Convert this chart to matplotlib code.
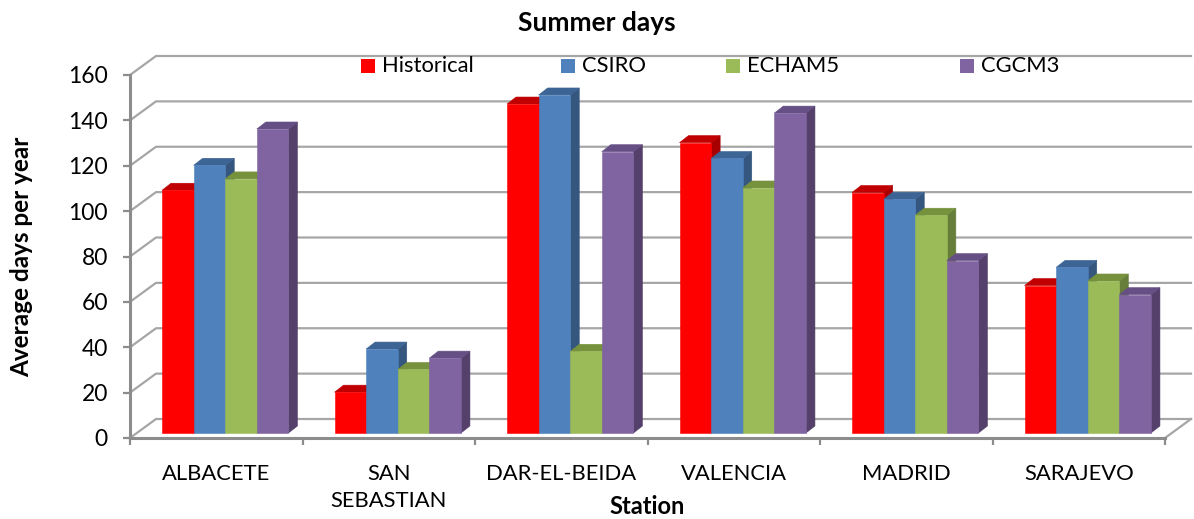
import matplotlib.pyplot as plt
from matplotlib.patches import Polygon, Rectangle

plt.rcParams['font.family'] = ['Lato', 'DejaVu Sans']

stations = ["ALBACETE", "SAN\nSEBASTIAN", "DAR-EL-BEIDA", "VALENCIA", "MADRID", "SARAJEVO"]
series_names = ["Historical", "CSIRO", "ECHAM5", "CGCM3"]
historical = [107, 18, 145, 128, 106, 65]
csiro = [118, 37, 149, 121, 103, 73]
echam5 = [112, 28, 36, 108, 96, 67]
cgcm3 = [134, 33, 124, 141, 76, 61]
y_ticks = [0, 20, 40, 60, 80, 100, 120, 140, 160]

front_colors = ["#FF0000", "#4F81BD", "#9BBB59", "#8064A2"]
top_colors = ["#C00000", "#3C6494", "#76923C", "#664F85"]
side_colors = ["#A80000", "#34567F", "#677E3A", "#54406B"]
grid_col = "#A6A6A6"
axis_col = "#8C8C8C"

W, H = 1194, 519
fig = plt.figure(figsize=(W / 100, H / 100), dpi=100)

# front plane of the 3d box, in pixels
x0, x1, y0, y1 = 130, 1165, 438, 75
ax = fig.add_axes([x0 / W, (H - y0) / H, (x1 - x0) / W, (y0 - y1) / H])
n = len(stations)
ax.set_xlim(0, n)
ax.set_ylim(0, 160)
sx = n / (x1 - x0)       # data units per pixel
sy = 160 / (y0 - y1)

wall_dx, wall_dy = 26 * sx, 19 * sy     # depth of floor / side wall
bar_dx, bar_dy = 9 * sx, 5 * sy         # bars sit a bit behind the front plane
dep_dx, dep_dy = 9 * sx, 7 * sy         # visible depth of each column
bar_w = 31.6 * sx

# back wall gridlines plus the diagonals on the side wall
for v in y_ticks:
    ax.plot([0, wall_dx, n + wall_dx], [v, v + wall_dy, v + wall_dy],
            color=grid_col, lw=1.6, clip_on=False, zorder=1)
# right edge of the floor
ax.plot([n, n + wall_dx], [0, wall_dy], color=grid_col, lw=1.6, clip_on=False, zorder=1)

values = [historical, csiro, echam5, cgcm3]
z = 3
for i in range(n):
    left = i + 0.5 - 2 * bar_w + bar_dx
    for k, vals in enumerate(values):
        xa = left + k * bar_w
        xb = xa + bar_w
        yb = bar_dy
        yt = vals[i] + bar_dy
        front = Polygon([(xa, yb), (xb, yb), (xb, yt), (xa, yt)],
                        fc=front_colors[k], ec=front_colors[k], lw=0.4, zorder=z)
        top = Polygon([(xa, yt), (xb, yt), (xb + dep_dx, yt + dep_dy), (xa + dep_dx, yt + dep_dy)],
                      fc=top_colors[k], ec=top_colors[k], lw=0.4, zorder=z)
        side = Polygon([(xb, yb), (xb + dep_dx, yb + dep_dy), (xb + dep_dx, yt + dep_dy), (xb, yt)],
                       fc=side_colors[k], ec=side_colors[k], lw=0.4, zorder=z)
        for p in (side, top, front):
            p.set_clip_on(False)
            ax.add_patch(p)
        z += 1

# axes: only the front left and bottom lines
for s in ("top", "right"):
    ax.spines[s].set_visible(False)
for s in ("left", "bottom"):
    ax.spines[s].set_color(axis_col)
    ax.spines[s].set_linewidth(2.2)
    ax.spines[s].set_zorder(50)
ax.set_facecolor("none")

ax.set_yticks(y_ticks)
ax.set_yticklabels([str(v) for v in y_ticks])
ax.tick_params(axis="y", length=5, width=1.6, color=axis_col, pad=11, labelsize=16.5)

ax.set_xticks(range(n + 1))
ax.set_xticklabels([])
ax.tick_params(axis="x", which="major", length=5, width=1.6, color=axis_col)
ax.set_xticks([i + 0.5 for i in range(n)], minor=True)
ax.set_xticklabels(stations, minor=True, fontsize=15.8, linespacing=1.42)
ax.tick_params(axis="x", which="minor", length=0, pad=19)

ax.set_ylabel("Average days per year", fontsize=17.5, fontweight="bold")
ax.yaxis.set_label_coords(-97 / (x1 - x0), 0.5)

fig.text(597 / W, 1 - 23 / H, "Summer days", ha="center", va="center",
         fontsize=19, fontweight="bold")
fig.text(647 / W, 1 - 506 / H, "Station", ha="center", va="center",
         fontsize=17, fontweight="bold")

# legend row across the top of the back wall
legend_x = [361, 561, 726, 960]
for k, name in enumerate(series_names):
    lx = legend_x[k]
    fig.add_artist(Rectangle((lx / W, 1 - 73 / H), 14 / W, 14 / H,
                             transform=fig.transFigure, fc=front_colors[k], ec="none"))
    fig.text((lx + 21) / W, 1 - 66 / H, name, ha="left", va="center", fontsize=15.8)

fig.savefig("out.png", dpi=100, facecolor="white")
